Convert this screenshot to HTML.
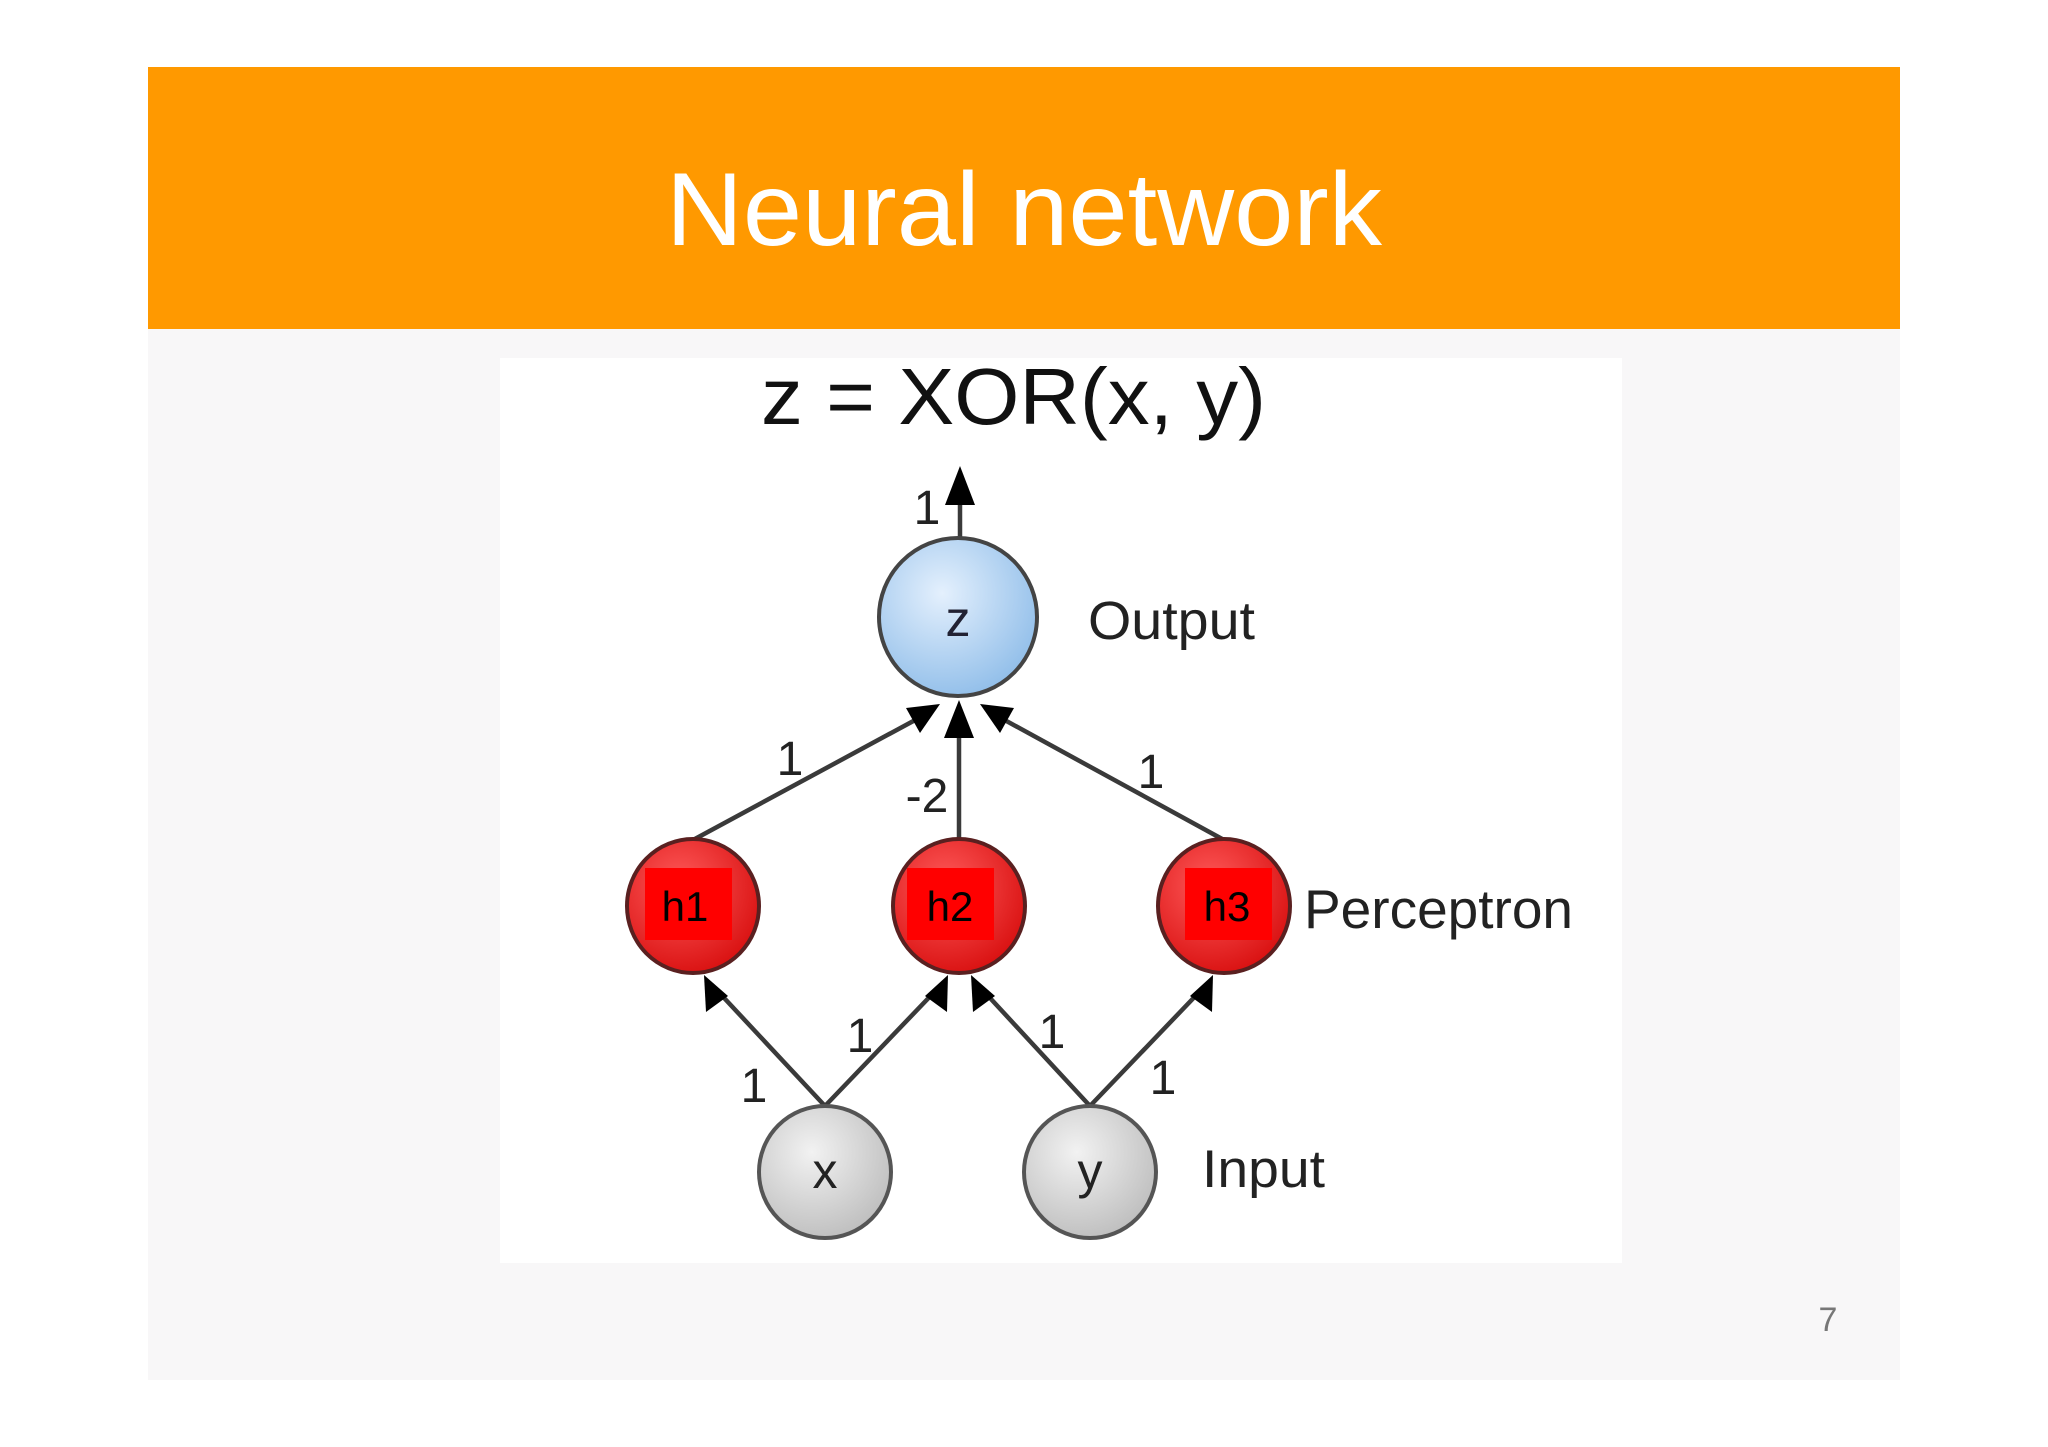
<!DOCTYPE html>
<html><head><meta charset="utf-8"><style>
html,body{margin:0;padding:0;background:#fff;width:2048px;height:1447px;overflow:hidden}
svg{display:block}
text{font-family:"Liberation Sans",Arial,sans-serif}
</style></head><body>
<svg width="2048" height="1447" viewBox="0 0 2048 1447" xmlns="http://www.w3.org/2000/svg">
<defs>
<radialGradient id="gb" cx="40%" cy="35%" r="70%"><stop offset="0" stop-color="#e4f0fd"/><stop offset="1" stop-color="#8fbde9"/></radialGradient>
<radialGradient id="gr" cx="40%" cy="35%" r="70%"><stop offset="0" stop-color="#ff5a5a"/><stop offset="1" stop-color="#d80f0f"/></radialGradient>
<radialGradient id="gg" cx="40%" cy="35%" r="70%"><stop offset="0" stop-color="#f2f2f2"/><stop offset="1" stop-color="#bdbdbd"/></radialGradient>
</defs>
<rect x="148" y="67" width="1752" height="1313" fill="#f8f7f8"/>
<rect x="148" y="67" width="1752" height="262" fill="#ff9900"/>
<text x="1024" y="245" font-size="104" fill="#fff" text-anchor="middle" textLength="716" lengthAdjust="spacingAndGlyphs">Neural network</text>
<rect x="500" y="358" width="1122" height="905" fill="#fff"/>
<text x="761" y="424" font-size="80" fill="#111" textLength="505" lengthAdjust="spacingAndGlyphs">z = XOR(x, y)</text>

<g stroke="#3a3a3a" stroke-width="4.5" fill="none">
<line x1="960" y1="539" x2="960" y2="480"/>
<line x1="693" y1="840" x2="930" y2="712"/>
<line x1="959" y1="840" x2="959" y2="710"/>
<line x1="1224" y1="840" x2="990" y2="712"/>
<line x1="825" y1="1106" x2="712" y2="985"/>
<line x1="825" y1="1106" x2="941" y2="985"/>
<line x1="1090" y1="1106" x2="978" y2="985"/>
<line x1="1090" y1="1106" x2="1206" y2="985"/>
</g>
<g fill="#000">
<polygon points="960,466 945,505 975,505"/>
<polygon points="940,704 906,708 920,733"/>
<polygon points="959,700 944,738 974,738"/>
<polygon points="980,704 1000,733 1014,708"/>
<polygon points="704,975 706,1012 728,996"/>
<polygon points="948,975 925,996 947,1012"/>
<polygon points="971,975 973,1012 995,996"/>
<polygon points="1213,975 1190,996 1212,1012"/>
</g>

<circle cx="958" cy="617" r="79" fill="url(#gb)" stroke="#444" stroke-width="4"/>
<text x="958" y="636" font-size="50" fill="#223" text-anchor="middle">z</text>

<g stroke="#5a2020" stroke-width="4">
<ellipse cx="693" cy="906" rx="66" ry="67" fill="url(#gr)"/>
<ellipse cx="959" cy="906" rx="66" ry="67" fill="url(#gr)"/>
<ellipse cx="1224" cy="906" rx="66" ry="67" fill="url(#gr)"/>
</g>
<rect x="645" y="868" width="87" height="72" fill="#ff0000"/>
<rect x="907" y="868" width="87" height="72" fill="#ff0000"/>
<rect x="1185" y="868" width="87" height="72" fill="#ff0000"/>
<text x="685" y="921" font-size="42" fill="#000" text-anchor="middle">h1</text>
<text x="950" y="921" font-size="42" fill="#000" text-anchor="middle">h2</text>
<text x="1227" y="921" font-size="42" fill="#000" text-anchor="middle">h3</text>

<g stroke="#555" stroke-width="4">
<ellipse cx="825" cy="1172" rx="66" ry="66" fill="url(#gg)"/>
<ellipse cx="1090" cy="1172" rx="66" ry="66" fill="url(#gg)"/>
</g>
<text x="825" y="1188" font-size="50" fill="#222" text-anchor="middle">x</text>
<text x="1090" y="1188" font-size="50" fill="#222" text-anchor="middle">y</text>

<text x="1088" y="639" font-size="54" fill="#222" textLength="167" lengthAdjust="spacingAndGlyphs">Output</text>
<text x="1304" y="928" font-size="55" fill="#222" textLength="269" lengthAdjust="spacingAndGlyphs">Perceptron</text>
<text x="1202" y="1187" font-size="53" fill="#222" textLength="123" lengthAdjust="spacingAndGlyphs">Input</text>

<g font-size="48" fill="#222" text-anchor="middle">
<text x="927" y="524">1</text>
<text x="790" y="775">1</text>
<text x="927" y="812">-2</text>
<text x="1151" y="788">1</text>
<text x="754" y="1102">1</text>
<text x="860" y="1052">1</text>
<text x="1052" y="1048">1</text>
<text x="1163" y="1094">1</text>
</g>
<text x="1828" y="1331" font-size="34" fill="#777" text-anchor="middle">7</text>
</svg>
</body></html>
